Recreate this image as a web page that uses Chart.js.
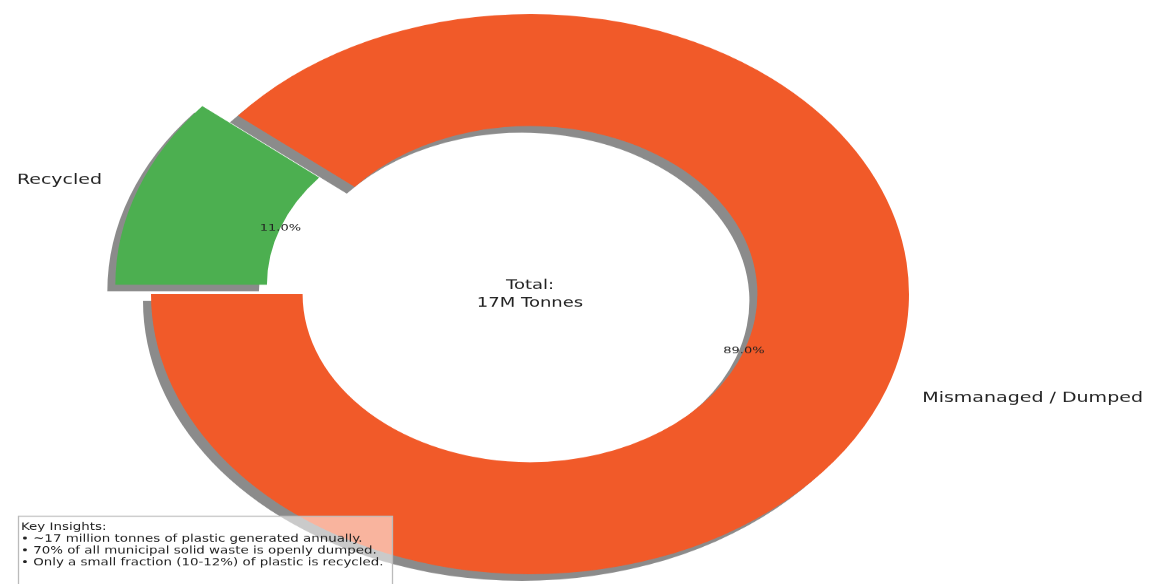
<!DOCTYPE html>
<html>
<head>
<meta charset="utf-8">
<script src="https://cdn.jsdelivr.net/npm/chart.js@4"></script>
<style>
html, body { margin: 0; padding: 0; background: #fff; overflow: hidden; }
/* the reference is a squashed picture, so the whole drawing is squashed too */
#stage { width: 1173px; height: 790px; transform: scaleY(0.739); transform-origin: 0 0; }
</style>
</head>
<body>
<div id="stage"><canvas id="pie" width="1173" height="790"></canvas></div>
<script>
var labels = ["Recycled", "Mismanaged / Dumped"];
var shares = [11, 89];
var colors = ["#4CAF50", "#F15A29"];
var explode = [0.1, 0];
var centerText = ["Total:", "17M Tonnes"];
var insights = [
  "Key Insights:",
  "\u2022 ~17 million tonnes of plastic generated annually.",
  "\u2022 70% of all municipal solid waste is openly dumped.",
  "\u2022 Only a small fraction (10-12%) of plastic is recycled."
];

var font = '"DejaVu Sans", sans-serif';
var textColor = "#222";

var piePlugin = {
  id: "piePlugin",
  afterDatasetUpdate: function(chart, args) {
    // move exploded slices out along their middle angle
    args.meta.data.forEach(function(arc, i) {
      var mid = (arc.startAngle + arc.endAngle) / 2;
      var d = explode[i] * arc.outerRadius;
      arc.x += Math.cos(mid) * d;
      arc.y += Math.sin(mid) * d;
    });
  },
  beforeDatasetsDraw: function(chart) {
    var ctx = chart.ctx;
    ctx.save();
    ctx.shadowColor = "rgba(90,90,90,0.7)";
    ctx.shadowOffsetX = -8;
    ctx.shadowOffsetY = 9;
    ctx.shadowBlur = 0;
  },
  afterDatasetsDraw: function(chart) {
    var ctx = chart.ctx;
    ctx.restore();
    var meta = chart.getDatasetMeta(0);
    var total = shares.reduce(function(a, b) { return a + b; }, 0);
    ctx.save();
    ctx.fillStyle = textColor;
    ctx.textBaseline = "middle";
    meta.data.forEach(function(arc, i) {
      var mid = (arc.startAngle + arc.endAngle) / 2;
      var c = Math.cos(mid), s = Math.sin(mid);
      var r = arc.outerRadius;
      ctx.font = "19px " + font;
      ctx.textAlign = c < 0 ? "right" : "left";
      ctx.fillText(labels[i], arc.x + c * r * 1.1, arc.y + s * r * 1.1);
      ctx.font = "13px " + font;
      ctx.textAlign = "center";
      ctx.fillText((shares[i] / total * 100).toFixed(1) + "%", arc.x + c * r * 0.6, arc.y + s * r * 0.6);
    });

    var area = chart.chartArea;
    var cx = (area.left + area.right) / 2, cy = (area.top + area.bottom) / 2;
    ctx.font = "18px " + font;
    ctx.textAlign = "center";
    ctx.fillText(centerText[0], cx, cy - 12);
    ctx.fillText(centerText[1], cx, cy + 12);

    // insights box
    ctx.fillStyle = "rgba(255,255,255,0.55)";
    ctx.strokeStyle = "#bbb";
    ctx.lineWidth = 1.3;
    ctx.beginPath();
    ctx.rect(18.5, 698.5, 374, 100);
    ctx.fill();
    ctx.stroke();
    ctx.fillStyle = textColor;
    ctx.textAlign = "left";
    ctx.font = "13.4px " + font;
    insights.forEach(function(line, i) {
      ctx.fillText(line, 21, 714 + i * 15.8);
    });
    ctx.restore();
  }
};

var chart = new Chart(document.getElementById("pie"), {
  type: "doughnut",
  data: {
    labels: labels,
    datasets: [{
      data: shares,
      backgroundColor: colors,
      borderWidth: 0
    }]
  },
  options: {
    responsive: false,
    animation: false,
    events: [],
    rotation: 270,
    radius: 379,
    cutout: "60%",
    layout: { padding: { left: 0, right: 113, top: 6, bottom: 0 } },
    plugins: {
      legend: { display: false },
      tooltip: { enabled: false }
    }
  },
  plugins: [piePlugin]
});
</script>
</body>
</html>
